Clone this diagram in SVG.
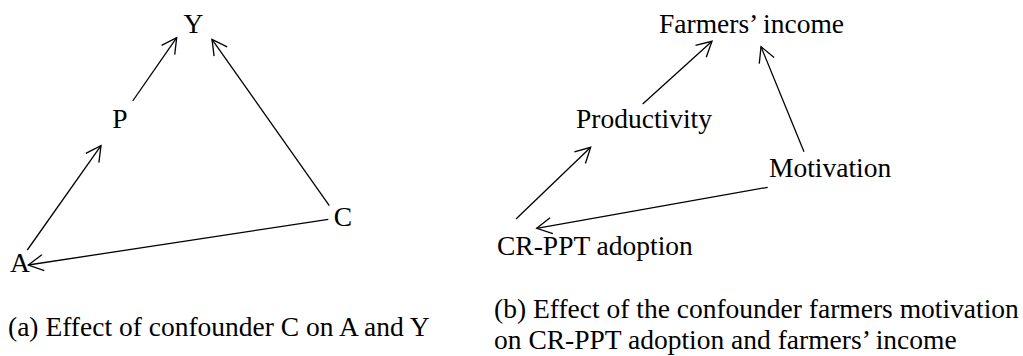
<svg xmlns="http://www.w3.org/2000/svg" width="1023" height="356" viewBox="0 0 1023 356">
  <style>
    text { font-family: "Liberation Serif", "Times New Roman", serif; font-size: 27.5px; fill: #000; }
    .edge { stroke: #000; stroke-width: 1.3; fill: none; marker-end: url(#arrow); }
    .mid { text-anchor: middle; }
  </style>
  <defs>
    <marker id="arrow" viewBox="-17 -10 19 20" refX="0" refY="0" markerWidth="19" markerHeight="20" markerUnits="userSpaceOnUse" orient="auto">
      <path d="M-15,-8 L0,0 L-15,8" fill="none" stroke="#000" stroke-width="1.3" stroke-linejoin="miter"/>
    </marker>
  </defs>
  <rect width="1023" height="356" fill="#fff"/>

  <g id="connectors">
    <line class="edge" x1="27.3" y1="250" x2="101" y2="145.7"/>
    <line class="edge" x1="132.7" y1="101" x2="176.7" y2="37.7"/>
    <line class="edge" x1="329.3" y1="205.7" x2="212" y2="39.3"/>
    <line class="edge" x1="328.3" y1="219.3" x2="28.3" y2="265"/>
    <line class="edge" x1="516" y1="219" x2="590.7" y2="147.3"/>
    <line class="edge" x1="642.7" y1="104" x2="712" y2="41.3"/>
    <line class="edge" x1="804" y1="151.7" x2="761" y2="46.7"/>
    <line class="edge" x1="767.7" y1="187.3" x2="536.7" y2="228.3"/>
  </g>

  <g id="node-Y"><text class="mid" x="193.5" y="33">Y</text></g>
  <g id="node-P"><text class="mid" x="120" y="128">P</text></g>
  <g id="node-A"><text class="mid" x="20" y="272">A</text></g>
  <g id="node-C"><text class="mid" x="343" y="226">C</text></g>

  <g id="node-income"><text x="659" y="33">Farmers’ income</text></g>
  <g id="node-productivity"><text x="576" y="128">Productivity</text></g>
  <g id="node-motivation"><text x="769" y="177">Motivation</text></g>
  <g id="node-adoption"><text x="497" y="255">CR-PPT adoption</text></g>

  <g id="caption-a"><text x="8" y="336">(a) Effect of confounder C on A and Y</text></g>
  <g id="caption-b">
    <text x="494" y="318">(b) Effect of the confounder farmers motivation</text>
    <text x="494" y="349">on CR-PPT adoption and farmers’ income</text>
  </g>
</svg>
